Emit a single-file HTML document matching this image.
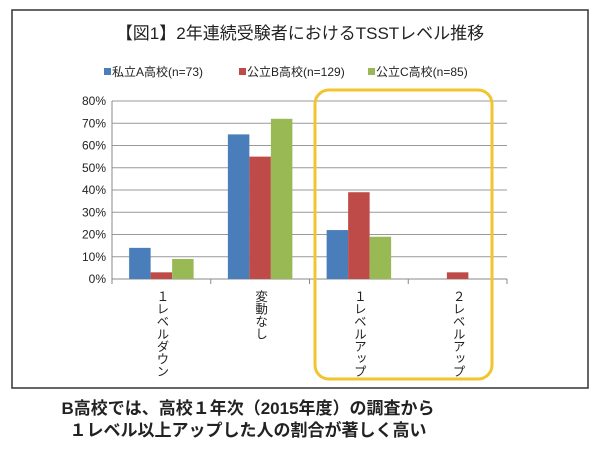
<!DOCTYPE html>
<html><head><meta charset="utf-8">
<style>
body{margin:0;background:#fff;width:600px;height:457px;overflow:hidden;font-family:"Liberation Sans","Noto Sans CJK JP",sans-serif;}
svg text{font-family:"Liberation Sans","Noto Sans CJK JP",sans-serif;}
</style></head>
<body>
<svg width="600" height="457" viewBox="0 0 600 457">
<rect x="12" y="10" width="576" height="378" fill="#fff" stroke="#333" stroke-width="1.5"/>
<text x="300" y="39" text-anchor="middle" font-size="17" fill="#222">【図1】2年連続受験者におけるTSSTレベル推移</text>
<g id="legend"></g>
<g id="grid"></g>
<g id="bars"></g>
<g id="xl"></g>
<rect x="315" y="90" width="177" height="289" rx="14" fill="none" stroke="#f2c530" stroke-width="3"/>
<text x="248" y="414" text-anchor="middle" font-size="17" font-weight="bold" fill="#222">B高校では、高校１年次（2015年度）の調査から</text>
<text x="248" y="436" text-anchor="middle" font-size="17" font-weight="bold" fill="#222">１レベル以上アップした人の割合が著しく高い</text>
</svg>
<script>
const categories=["１レベルダウン","変動なし","１レベルアップ","２レベルアップ"];
const seriesNames=["私立A高校(n=73)","公立B高校(n=129)","公立C高校(n=85)"];
const seriesA=[14,65,22,0];
const seriesB=[3,55,39,3];
const seriesC=[9,72,19,0];
const ticks=[0,10,20,30,40,50,60,70,80];
const colors=["#4a7ebb","#be4b48","#98b954"];
const NS="http://www.w3.org/2000/svg";
const x0=112,x1=507,y0=279,yTop=101,max=80;
const y=v=>y0-(v/max)*(y0-yTop);
const cw=(x1-x0)/categories.length;
function mk(t,a,p){const e=document.createElementNS(NS,t);for(const k in a)e.setAttribute(k,a[k]);p.appendChild(e);return e;}
const grid=document.getElementById('grid');
ticks.forEach(t=>{
 const l=mk('line',{x1:x0,x2:x1,y1:y(t),y2:y(t),stroke:t===0?'#888':'#999','stroke-width':1},grid);
 
 
 const tx=mk('text',{x:x0-6,y:y(t)+4,'text-anchor':'end','font-size':12,fill:'#222'},grid);
 tx.textContent=t+'%';
 
 
});
mk('line',{x1:x0,x2:x0,y1:yTop,y2:y0+4,stroke:'#888'},grid);
for(let i=0;i<=categories.length;i++){mk('line',{x1:x0+i*cw,x2:x0+i*cw,y1:y0,y2:y0+5,stroke:'#888'},grid);}
const bars=document.getElementById('bars');
const all=[seriesA,seriesB,seriesC];
const bw=21.5,pad=(cw-3*bw)/2;
all.forEach((s,si)=>s.forEach((v,ci)=>{
 if(v<=0)return;
 const r=mk('rect',{x:x0+ci*cw+pad+si*bw,y:y(v),width:bw,height:y0-y(v),fill:colors[si]},bars);
 
 
}));
const xl=document.getElementById('xl');
categories.forEach((c,i)=>{
 const t=mk('text',{x:x0+(i+0.5)*cw,y:290,'font-size':12.5,fill:'#222','writing-mode':'vertical-rl','glyph-orientation-vertical':0},xl);
 t.textContent=c;
 
 
});
const lg=document.getElementById('legend');
const lx=[104,239,368];
seriesNames.forEach((n,i)=>{
 mk('rect',{x:lx[i],y:68,width:7,height:7,fill:colors[i]},lg);
 const t=mk('text',{x:lx[i]+8,y:76,'font-size':12,fill:'#222'},lg);
 t.textContent=n;
 
 
});
</script>
</body></html>
